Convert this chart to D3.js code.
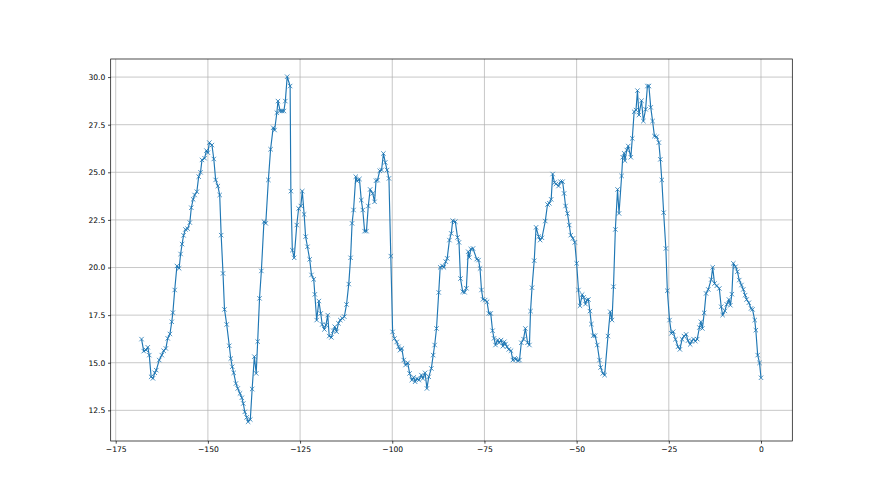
<!DOCTYPE html>
<html>
<head>
<meta charset="utf-8">
<script src="https://cdn.jsdelivr.net/npm/d3@7"></script>
<style>
  html, body { margin: 0; padding: 0; background: #fff; }
  svg { display: block; }
  text { font-family: "DejaVu Sans", sans-serif; }
</style>
</head>
<body>
<svg id="chart" width="880" height="495"></svg>
<script>
const xValues = [
-168.0,-167.4,-166.8,-166.3,-165.9,-165.4,-164.9,-164.4,-164.0,-163.2,-162.5,-162.0,-161.4,-160.9,-160.3,-159.8,-159.5,-159.0,-158.4,-157.8,-157.4,-157.0,-156.6,-156.1,-155.5,-154.9,-154.5,-154.0,-153.6,-153.0,-152.5,-152.0,-151.6,-150.9,-150.4,-150.0,-149.6,
-148.9,-148.4,-147.9,-147.3,-146.8,-146.4,-145.9,-145.5,-144.9,-144.2,-143.8,-143.4,-143.0,-142.4,-141.9,-141.3,-140.8,-140.4,-140.0,-139.5,-139.1,-138.5,-138.0,-137.4,-136.9,-136.5,-136.0,-135.5,-134.8,-134.3,-133.6,-133.0,-132.3,-131.9,-131.3,-131.0,
-130.4,-129.9,-129.4,-129.0,-128.5,-127.7,-127.5,-127.1,-126.6,-125.9,-125.4,-124.8,-124.4,-123.9,-123.5,-123.0,-122.4,-121.9,-121.3,-121.0,-120.5,-119.9,-119.4,-119.0,-118.4,-118.0,-117.5,-117.1,-116.5,-116.0,-115.6,-115.1,-114.6,-114.1,-113.5,-113.0,
-112.4,-111.8,-111.3,-110.9,-110.5,-109.9,-109.5,-108.9,-108.4,-108.0,-107.5,-107.0,-106.5,-106.0,-105.3,-104.8,-104.4,-104.0,-103.4,-102.9,-102.4,-101.9,-101.4,-100.9,-100.4,-99.9,-99.4,-98.8,-98.3,-97.9,-97.4,-96.9,-96.4,-95.8,-95.3,
-94.7,-94.2,-93.8,-93.3,-92.8,-92.1,-91.7,-91.1,-90.6,-90.1,-89.4,-88.9,-88.5,-88.0,-87.4,-87.0,-86.4,-86.0,-85.5,-85.1,-84.5,-84.0,-83.6,-82.9,-82.3,-81.9,-81.5,-80.9,-80.4,-79.9,-79.4,-79.1,-78.7,-78.1,-77.1,-76.6,-76.2,
-75.8,-75.4,-74.8,-74.3,-73.8,-73.3,-72.8,-72.4,-72.0,-71.4,-71.0,-70.5,-70.0,-69.6,-69.3,-68.9,-68.4,-67.8,-67.3,-66.8,-66.5,-65.9,-65.5,-65.0,-64.4,-63.9,-63.3,-62.8,-62.5,-62.1,-61.5,-61.0,-60.3,-59.9,-59.4,-58.5,-57.9,-57.4,-56.9,
-56.5,-56.0,-55.6,-54.9,-54.4,-53.8,-53.4,-53.0,-52.5,-52.0,-51.6,-51.0,-50.5,-50.0,-49.5,-49.1,-48.5,-48.1,-47.6,-47.2,-46.8,-46.4,-46.0,-45.5,-45.0,-44.4,-43.8,-43.5,-42.9,-42.4,-41.5,-40.9,-40.4,-40.0,-39.5,-38.9,-38.5,
-37.8,-37.5,-37.1,-36.9,-36.4,-36.0,-35.3,-34.9,-34.4,-33.9,-33.5,-33.1,-32.4,-31.9,-31.3,-30.8,-30.4,-29.9,-29.4,-28.9,-28.3,-27.7,-27.3,-26.9,-26.4,-25.8,-25.4,-24.8,-24.3,-23.8,-23.2,-22.5,-22.0,-21.4,-20.9,-20.3,-19.8,
-19.2,-18.8,-18.3,-17.8,-17.3,-16.7,-16.3,-15.9,-15.4,-14.9,-14.3,-13.5,-13.1,-12.6,-12.0,-11.3,-10.8,-10.4,-9.8,-9.3,-8.7,-8.3,-7.9,-7.5,-6.9,-6.4,-5.9,-5.3,-4.8,-4.3,-3.9,-3.3,-2.7,-2.3,-1.7,-1.4,-0.9,-0.4,0.0
];
const yValues = [
16.24,15.61,15.67,15.81,15.40,14.26,14.18,14.47,14.61,15.14,15.40,15.63,15.75,16.28,16.51,17.15,17.63,18.82,20.08,19.96,20.71,21.23,21.69,22.00,22.04,22.36,23.14,23.58,23.81,23.98,24.77,25.00,25.65,25.74,26.14,26.03,26.56,
26.43,25.70,24.60,24.28,23.81,21.70,19.69,17.80,17.01,15.89,15.22,14.79,14.47,13.91,13.65,13.39,13.16,12.86,12.42,12.13,11.90,12.02,13.62,15.32,14.44,16.11,18.38,19.82,22.41,22.32,24.60,26.21,27.34,27.22,28.13,28.74,
28.22,28.22,28.22,28.74,30.02,29.53,24.01,20.91,20.51,22.23,23.10,23.23,24.01,22.79,21.62,21.09,20.43,19.61,19.38,18.59,17.24,18.24,17.59,17.01,16.75,16.98,17.50,16.40,16.33,16.68,16.89,16.63,17.07,17.24,17.33,17.42,
18.06,19.13,20.51,22.32,23.02,24.77,24.54,24.65,23.54,23.02,21.91,21.91,23.23,24.10,23.89,23.45,24.56,24.59,25.08,25.12,25.99,25.52,25.12,24.68,20.60,16.62,16.27,16.09,15.84,15.66,15.75,15.14,14.88,15.00,14.44,
14.09,14.23,14.00,14.17,14.09,14.35,14.17,14.47,13.65,14.26,14.70,15.40,15.93,16.80,18.69,20.01,20.08,20.01,20.31,20.48,21.44,21.79,22.46,22.41,21.58,21.32,19.42,18.73,18.70,18.91,20.83,20.53,20.97,21.00,20.44,20.39,19.95,
18.82,18.33,18.29,18.20,17.59,17.59,16.68,16.28,15.93,16.19,16.05,16.19,15.87,16.10,15.98,15.84,15.70,15.63,15.14,15.23,15.18,15.11,15.14,16.05,16.24,16.80,16.05,15.93,17.71,18.94,20.36,22.11,21.62,21.44,21.56,22.44,23.31,23.37,23.58,
24.91,24.46,24.39,24.28,24.51,24.51,23.89,23.23,22.84,22.23,21.70,21.53,21.32,20.22,18.82,17.99,18.58,18.43,18.08,18.29,18.32,17.71,17.03,16.42,16.42,15.93,15.14,14.75,14.44,14.35,16.40,17.68,17.24,18.99,22.00,24.10,22.84,
24.81,25.79,26.00,25.61,26.17,26.38,25.79,26.78,28.18,28.27,29.29,28.01,28.76,27.69,28.31,29.53,29.53,28.41,27.69,26.90,26.87,26.56,25.68,24.60,22.88,21.00,18.78,17.24,16.54,16.63,16.23,15.84,15.70,16.23,16.40,16.49,16.16,
15.96,16.13,16.24,16.13,16.24,16.85,17.15,16.80,17.62,18.64,18.85,19.37,20.01,19.16,19.04,18.90,17.94,17.50,17.72,18.07,18.32,18.02,18.60,20.22,20.04,19.78,19.34,19.08,18.85,18.55,18.32,18.15,17.85,17.80,17.24,16.71,15.40,14.99,14.21
];
const xTicks = [-175, -150, -125, -100, -75, -50, -25, 0];
const yTicks = [12.5, 15.0, 17.5, 20.0, 22.5, 25.0, 27.5, 30.0];

const data = xValues.map((x, i) => ({x: x, y: yValues[i]}));

const svg = d3.select("#chart");
svg.append("rect").attr("width", 880).attr("height", 495).attr("fill", "#fff");

const L = 110.7, R = 792.3, T = 59, B = 441;
const x = d3.scaleLinear().domain([-176.36, 8.49]).range([L, R]);
const y = d3.scaleLinear().domain([10.89, 30.95]).range([B, T]);

const fmtMinus = v => (v < 0 ? "\u2212" + Math.abs(v) : String(v));

// grid
const grid = svg.append("g");
grid.selectAll("line.vx").data(xTicks).enter().append("line")
  .attr("x1", d => x(d)).attr("x2", d => x(d)).attr("y1", T).attr("y2", B)
  .attr("stroke", "#b0b0b0").attr("stroke-width", 0.7);
grid.selectAll("line.hy").data(yTicks).enter().append("line")
  .attr("x1", L).attr("x2", R).attr("y1", d => y(d)).attr("y2", d => y(d))
  .attr("stroke", "#b0b0b0").attr("stroke-width", 0.7);

// axes
const xAxis = d3.axisBottom(x).tickValues(xTicks).tickSize(2.7).tickPadding(2.7).tickFormat(fmtMinus);
const yAxis = d3.axisLeft(y).tickValues(yTicks).tickSize(2.7).tickPadding(2.7).tickFormat(d3.format(".1f"));

const gx = svg.append("g").attr("transform", `translate(0,${B})`).call(xAxis);
const gy = svg.append("g").attr("transform", `translate(${L},0)`).call(yAxis);
[gx, gy].forEach(g => {
  g.select(".domain").remove();
  g.selectAll(".tick line").attr("stroke", "#000").attr("stroke-width", 0.7);
  g.selectAll(".tick text").attr("fill", "#000").style("font-size", "7.6px")
    .style("font-family", '"DejaVu Sans", sans-serif');
});

// line
const line = d3.line().x(d => x(d.x)).y(d => y(d.y));
svg.append("path").datum(data).attr("d", line)
  .attr("fill", "none").attr("stroke", "#1f77b4").attr("stroke-width", 1.15)
  .attr("stroke-linejoin", "round");

// x markers
const m = 2.2;
const mk = svg.append("g").attr("stroke", "#1f77b4").attr("stroke-width", 0.8);
mk.selectAll("path").data(data).enter().append("path")
  .attr("d", d => {
    const cx = x(d.x), cy = y(d.y);
    return `M${cx - m},${cy - m}L${cx + m},${cy + m}M${cx - m},${cy + m}L${cx + m},${cy - m}`;
  });

// frame
svg.append("rect").attr("x", L).attr("y", T).attr("width", R - L).attr("height", B - T)
  .attr("fill", "none").attr("stroke", "#000").attr("stroke-width", 0.7);
</script>
</body>
</html>
